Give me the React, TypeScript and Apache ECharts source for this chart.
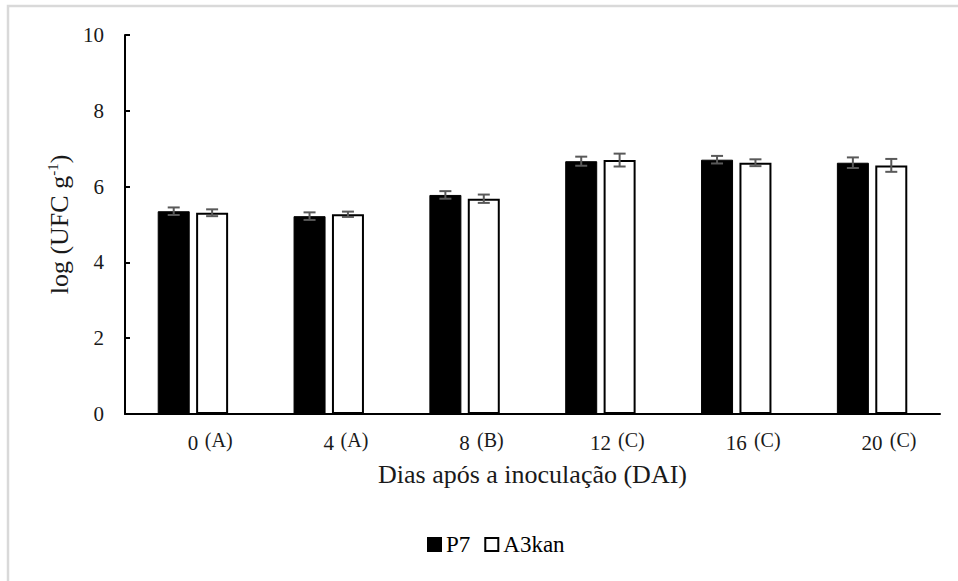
import React, { useEffect, useRef } from "react";
import * as echarts from "echarts";

// Days after inoculation and the statistical group letter of each day
const days = ["0", "4", "8", "12", "16", "20"];
const groupLetters = ["(A)", "(A)", "(B)", "(C)", "(C)", "(C)"];

// log (UFC g-1) means and standard errors per strain
const p7Values = [5.35, 5.22, 5.78, 6.67, 6.71, 6.63];
const p7Errors = [0.1, 0.1, 0.1, 0.12, 0.1, 0.14];
const a3kanValues = [5.31, 5.27, 5.68, 6.7, 6.63, 6.56];
const a3kanErrors = [0.09, 0.07, 0.11, 0.17, 0.09, 0.17];

const seriesNames = ["P7", "A3kan"];

const FONT = "Liberation Serif";
const TEXT = "#1a1a1a";
const BAR_WIDTH = 32;
const BAR_GAP = 0.2;
const BAR_OFFSET = BAR_WIDTH / 2 + (BAR_WIDTH * BAR_GAP) / 2;

const serif = (fontSize: number, color = TEXT) => ({ fontFamily: FONT, fontSize, color });

function errorData(values: number[], errors: number[]) {
  return values.map((v, i) => [i, v - errors[i], v + errors[i]]);
}

function errorRenderer(offset: number) {
  return (_params: any, api: any) => {
    const idx = api.value(0);
    const lo = api.coord([idx, api.value(1)]);
    const hi = api.coord([idx, api.value(2)]);
    const x = lo[0] + offset;
    const cap = 6;
    const style = { stroke: "#595959", lineWidth: 2 };
    return {
      type: "group",
      children: [
        { type: "line", shape: { x1: x, y1: hi[1], x2: x, y2: lo[1] }, style },
        { type: "line", shape: { x1: x - cap, y1: hi[1], x2: x + cap, y2: hi[1] }, style },
        { type: "line", shape: { x1: x - cap, y1: lo[1], x2: x + cap, y2: lo[1] }, style },
      ],
    };
  };
}

export default function App() {
  const ref = useRef<HTMLDivElement>(null);

  useEffect(() => {
    if (!ref.current) return;
    const chart = echarts.init(ref.current, undefined, { renderer: "svg" });
    chart.setOption({
      animation: false,
      backgroundColor: "#ffffff",
      textStyle: { fontFamily: FONT },
      graphic: [
        {
          type: "rect",
          shape: { x: 8, y: 6, width: 1000, height: 700 },
          style: { fill: "none", stroke: "#d9d9d9", lineWidth: 2.5 },
          silent: true,
        },
      ],
      grid: { left: 125, right: 18, top: 35, bottom: 167 },
      legend: {
        data: seriesNames,
        bottom: 20,
        left: 422,
        icon: "rect",
        itemWidth: 13,
        itemHeight: 13,
        itemGap: 14,
        formatter: (name: string) => `{t|${name}}`,
        textStyle: { ...serif(23, "#000"), rich: { t: serif(23, "#000") } },
      },
      xAxis: {
        type: "category",
        data: days,
        name: "{t|Dias após a inoculação (DAI)}",
        nameLocation: "middle",
        nameGap: 47,
        nameTextStyle: { ...serif(26), rich: { t: serif(26) } },
        axisLine: { lineStyle: { color: "#000", width: 2 } },
        axisTick: { show: false },
        axisLabel: {
          interval: 0,
          margin: 16,
          formatter: (value: string, index: number) =>
            `{pad| }{n|${value}}{g| ${groupLetters[index]}}`,
          rich: {
            pad: { width: 36, fontSize: 21 },
            n: serif(21),
            g: {
              ...serif(20),
              width: 36,
              align: "left",
              padding: [0, 0, 6, 0],
            },
          },
        },
      },
      yAxis: {
        type: "value",
        min: 0,
        max: 10,
        interval: 2,
        name: "{a|log (UFC g}{s|-1}{a|)}",
        nameLocation: "middle",
        nameGap: 52,
        nameRotate: 90,
        nameTextStyle: {
          rich: {
            a: serif(26),
            s: { ...serif(15), padding: [0, 0, 12, 0] },
          },
        },
        axisLine: { show: true, lineStyle: { color: "#000", width: 2 } },
        axisTick: { show: true, inside: true, length: 5, lineStyle: { color: "#000", width: 2 } },
        splitLine: { show: false },
        axisLabel: {
          margin: 21,
          formatter: (value: number) => `{t|${value}}`,
          rich: { t: serif(21) },
        },
      },
      series: [
        {
          name: "P7",
          type: "bar",
          data: p7Values,
          barWidth: BAR_WIDTH,
          barGap: `${BAR_GAP * 100}%`,
          itemStyle: { color: "#000", borderColor: "#000", borderWidth: 1 },
        },
        {
          name: "A3kan",
          type: "bar",
          data: a3kanValues,
          barWidth: BAR_WIDTH,
          itemStyle: { color: "#fff", borderColor: "#000", borderWidth: 2 },
        },
        {
          type: "custom",
          name: "P7 error",
          data: errorData(p7Values, p7Errors),
          renderItem: errorRenderer(-BAR_OFFSET),
          encode: { x: 0, y: [1, 2] },
          z: 10,
          silent: true,
        },
        {
          type: "custom",
          name: "A3kan error",
          data: errorData(a3kanValues, a3kanErrors),
          renderItem: errorRenderer(BAR_OFFSET),
          encode: { x: 0, y: [1, 2] },
          z: 10,
          silent: true,
        },
      ],
    });
    return () => chart.dispose();
  }, []);

  return (
    <div
      ref={ref}
      style={{ position: "fixed", left: 0, top: 0, width: 958, height: 581 }}
    />
  );
}
